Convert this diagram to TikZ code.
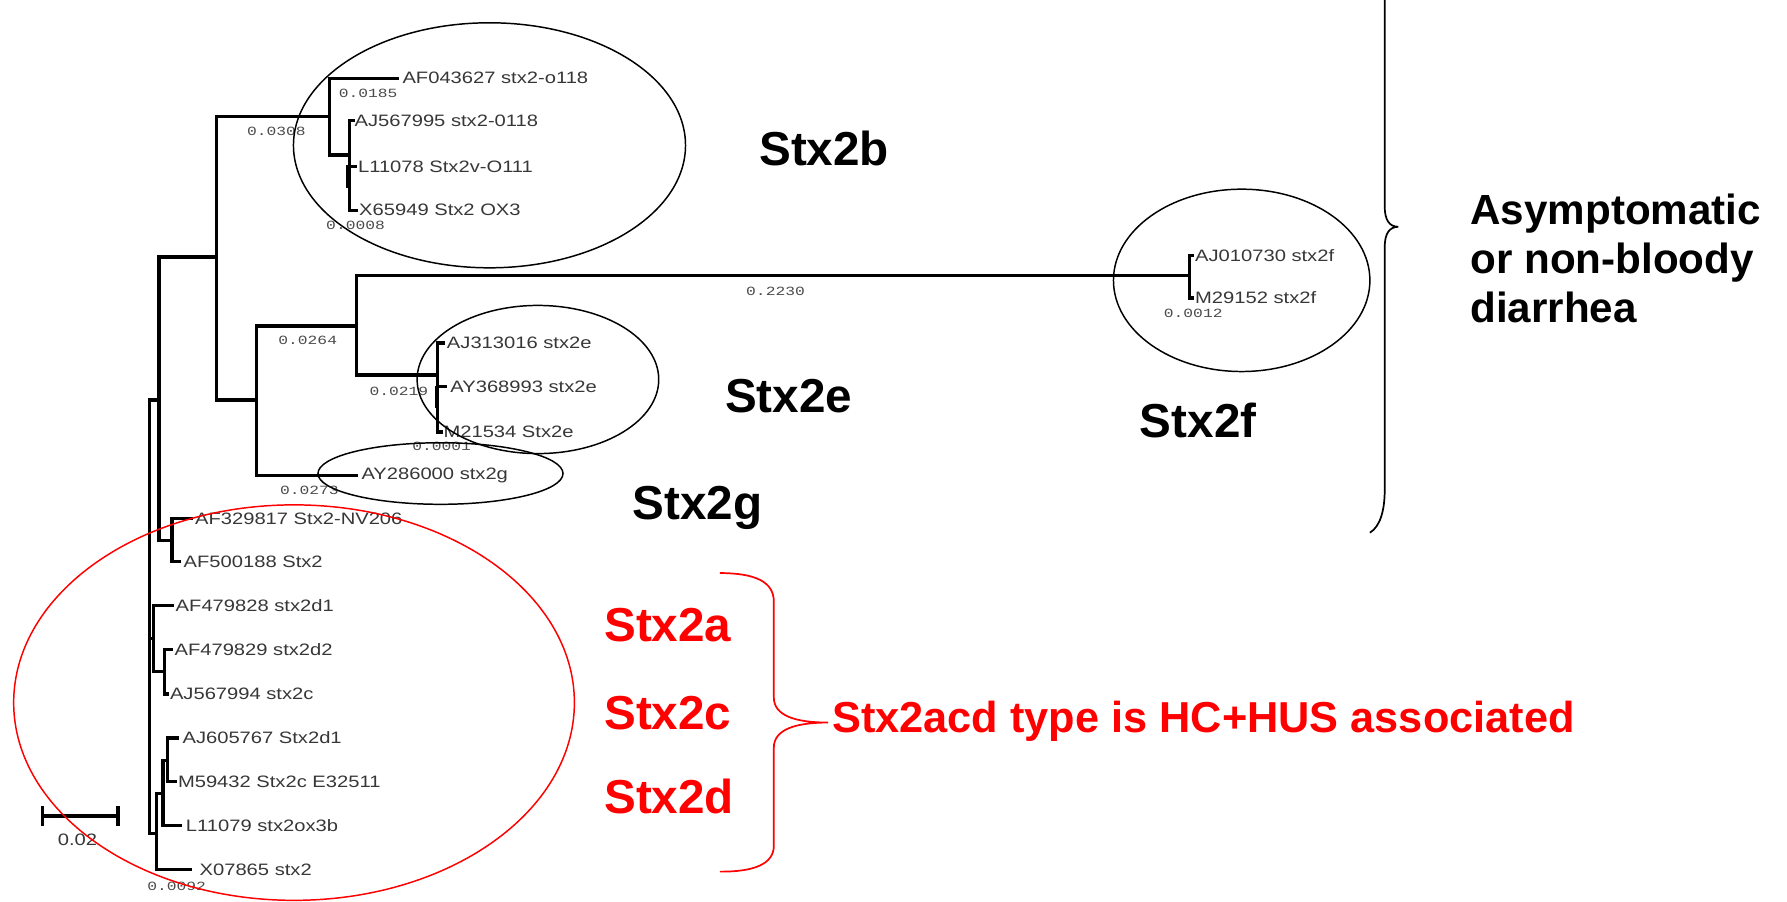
\documentclass[tikz,border=0pt]{standalone}
\usepackage{fontspec}
\setmainfont{Liberation Sans}
\newfontfamily\leaffont[FakeStretch=1.22]{Liberation Sans}
\newfontfamily\numfont[FakeStretch=1.3]{Liberation Mono}
\definecolor{leafgray}{RGB}{55,55,55}
\definecolor{numgray}{RGB}{75,75,75}
\definecolor{myred}{RGB}{255,0,0}
\begin{document}
\begin{tikzpicture}[x=1pt,y=-1pt,
  tree/.style={line width=2.8pt,line cap=rect},
  leaf/.style={anchor=west,inner sep=0pt,text=leafgray,font=\leaffont\fontsize{14.5}{15}\selectfont},
  blen/.style={inner sep=0pt,text=numgray,font=\numfont\fontsize{11}{12}\selectfont},
  clade/.style={line width=1.3pt},
  bigtag/.style={anchor=base west,inner sep=0pt,font=\bfseries\fontsize{41.8}{45}\selectfont},
  brace/.style={line width=1.5pt}]
\useasboundingbox (0,0) rectangle (1568,791);
\clip (0,0) rectangle (1568,791);

% ---- internal nodes (x, y of attachment; top/bottom of vertical)
\coordinate (Rt) at (131,351);   \coordinate (Rb) at (131,731);
\coordinate (U) at (139.5,351);  \coordinate (Ut) at (139.5,225.5); \coordinate (Ub) at (139.5,474);
\coordinate (V) at (190,225.5);  \coordinate (Vt) at (190,102);     \coordinate (Vb) at (190,351);
\coordinate (B) at (289,102);    \coordinate (Bt) at (289,68.7);    \coordinate (Bb) at (289,136);
\coordinate (B2) at (307,136);   \coordinate (B2t) at (307,106);    \coordinate (B2b) at (307,184.5);
\coordinate (W) at (225,351);    \coordinate (Wt) at (225,286);     \coordinate (Wb) at (225,417);
\coordinate (X) at (312.5,286);  \coordinate (Xt) at (312.5,241.5); \coordinate (Xb) at (312.5,329);
\coordinate (F) at (1043.5,241.5); \coordinate (Ft) at (1043.5,224); \coordinate (Fb) at (1043.5,261.5);
\coordinate (E) at (384,329);    \coordinate (Et) at (384,301);     \coordinate (Eb) at (384,379);
\coordinate (A) at (151,474);    \coordinate (At) at (151,455);     \coordinate (Ab) at (151,493);
\coordinate (D) at (135,560);    \coordinate (Dt) at (135,531);     \coordinate (Db) at (135,589.5);
\coordinate (D2) at (144.5,589.5); \coordinate (D2t) at (144.5,570); \coordinate (D2b) at (144.5,609);
\coordinate (C) at (137,731);    \coordinate (Ct) at (137,696);     \coordinate (Cb) at (137,763);
\coordinate (Bn) at (143,696);   \coordinate (Bnt) at (143,667);    \coordinate (Bnb) at (143,724);
\coordinate (An) at (147,667);   \coordinate (Ant) at (147,647.5);  \coordinate (Anb) at (147,686);

% verticals
\foreach \n in {R,U,V,B,B2,W,X,F,E,A,D,D2,C,Bn,An}
  \draw[tree] (\n t) -- (\n b);
% thicker bits (tiny subclades)
\draw[line width=4.2pt] (306,145) -- (306,165);
\draw[line width=4.2pt] (383.5,339) -- (383.5,358);

% internal horizontals
\draw[tree] (Rt |- U) -- (U);
\draw[tree] (Ut |- V) -- (V);
\draw[tree] (Vt |- B) -- (B);
\draw[tree] (Bt |- B2) -- (B2);
\draw[tree] (Vt |- W) -- (W);
\draw[tree] (Wt |- X) -- (X);
\draw[tree] (Xt |- F) -- (F);
\draw[tree] (Xt |- E) -- (E);
\draw[tree] (Ut |- A) -- (A);
\draw[tree] (Rt |- D) -- (D);
\draw[tree] (Dt |- D2) -- (D2);
\draw[tree] (Rt |- C) -- (C);
\draw[tree] (Ct |- Bn) -- (Bn);
\draw[tree] (Bnt |- An) -- (An);

% leaves: parent / tip x / y / label x / name / text
\foreach \p/\tx/\ty/\lx/\nm/\txt in {
  Bt/349/68.7/353/l01/{AF043627 stx2-o118},
  B2t/310/106/311/l02/{AJ567995 stx2-0118},
  B2t/312/146/314/l03/{L11078 Stx2v-O111},
  B2t/313/184.5/315/l04/{X65949 Stx2 OX3},
  Ft/1046/224/1048.5/l05/{AJ010730 stx2f},
  Ft/1046/261.5/1048.5/l06/{M29152 stx2f},
  Et/389/301/392/l07/{AJ313016 stx2e},
  Et/391/339/395/l08/{AY368993 stx2e},
  Et/387/379/389/l09/{M21534 Stx2e},
  Wt/312.5/417/317/l10/{AY286000 stx2g},
  At/168/455/171/l11/{AF329817 Stx2-NV206},
  At/157/493/161/l12/{AF500188 Stx2},
  Dt/151/531/154/l13/{AF479828 stx2d1},
  D2t/150/570/153/l14/{AF479829 stx2d2},
  D2t/147/609/149/l15/{AJ567994 stx2c},
  Ant/156/647.5/160/l16/{AJ605767 Stx2d1},
  Ant/154/686/156/l17/{M59432 Stx2c E32511},
  Bnt/158/724/163/l18/{L11079 stx2ox3b},
  Ct/167/763/175/l19/{X07865 stx2}}
{
  \coordinate (tip\nm) at (\tx,\ty);
  \draw[tree] (\p |- tip\nm) -- (tip\nm);
  \node[leaf] (\nm) at (\lx,\ty) {\txt};
}

% branch lengths
\node[blen] (b1) at (323,82) {0.0185};
\node[blen] (b2) at (242.5,115) {0.0308};
\node[blen] (b3) at (312,198) {0.0008};
\node[blen] (b4) at (680.5,256) {0.2230};
\node[blen] (b5) at (1047,275) {0.0012};
\node[blen] (b6) at (270,298.5) {0.0264};
\node[blen] (b7) at (350,343) {0.0219};
\node[blen] (b8) at (387.5,392) {0.0001};
\node[blen] (b9) at (271.5,430) {0.0273};
\node[blen] (b10) at (155,777.5) {0.0092};

% scale bar
\coordinate (sbl) at (37,716); \coordinate (sbr) at (103.5,716);
\coordinate (sblt) at (37,707.5); \coordinate (sblb) at (37,725);
\coordinate (sbrt) at (103.5,707.5); \coordinate (sbrb) at (103.5,725);
\draw[line width=2.8pt] (sbl) -- (sbr);
\draw[line width=2.8pt] (sblt) -- (sblb);
\draw[line width=2.8pt] (sbrt) -- (sbrb);
\node[leaf,anchor=center] (sblab) at (68,737) {0.02};

% clade ellipses
\draw[clade] (429.5,127.5) ellipse [x radius=172pt, y radius=107.5pt];
\draw[clade] (472,333) ellipse [x radius=106pt, y radius=65pt];
\draw[clade] (386.5,415.5) ellipse [x radius=107.5pt, y radius=27pt];
\draw[clade] (1089.5,246) ellipse [x radius=112.5pt, y radius=80pt];
\draw[clade,myred] (258,616.5) ellipse [x radius=246pt, y radius=173.5pt];

% subtype labels
\node[bigtag] (t2b) at (666,145) {Stx2b};
\node[bigtag] (t2e) at (636,362) {Stx2e};
\node[bigtag] (t2g) at (555,456) {Stx2g};
\node[bigtag] (t2f) at (1000,384) {Stx2f};
\node[bigtag,text=myred] (t2a) at (530,563) {Stx2a};
\node[bigtag,text=myred] (t2c) at (530,640) {Stx2c};
\node[bigtag,text=myred] (t2d) at (530,714) {Stx2d};

% black brace
\coordinate (kb) at (1227,199);
\draw[brace] (1202,-69) .. controls (1211,-62) and (1215,-48) .. (1215,-32)
  -- (1215,181) .. controls (1215,193) and (1219,199) .. (kb)
  .. controls (1219,199) and (1215,205) .. (1215,217)
  -- (1215,430) .. controls (1215,448) and (1211,462) .. (1202,467.4);
\node[anchor=base west,inner sep=0pt,align=left,font=\bfseries\fontsize{37}{43}\selectfont] (asym) at (1290,283)
  {Asymptomatic\\or non-bloody\\diarrhea};

% red brace
\coordinate (kr) at (726.6,634);
\draw[brace,myred] (631.7,502.8) .. controls (662,503) and (679,510) .. (679,528)
  -- (679,612) .. controls (679,628) and (698,634) .. (kr)
  .. controls (698,634) and (679,640) .. (679,656)
  -- (679,742) .. controls (679,758) and (662,765) .. (631.7,764.8);
\node[anchor=base west,inner sep=0pt,text=myred,font=\bfseries\fontsize{38}{42}\selectfont] (hus) at (730,643)
  {Stx2acd type is HC+HUS associated};
\end{tikzpicture}
\end{document}
